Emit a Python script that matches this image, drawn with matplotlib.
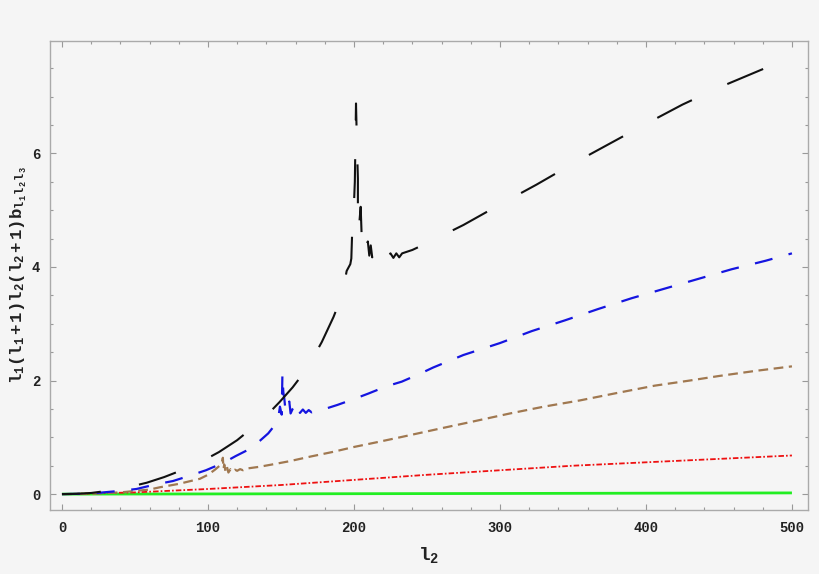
import matplotlib
matplotlib.use("Agg")
import matplotlib.pyplot as plt
from matplotlib.ticker import MultipleLocator

# ---- data ----
black_x = [0, 10, 20, 32, 45, 58, 70, 84, 96, 107.5, 120, 130, 140, 149, 158, 166, 172, 178, 182, 186,
           188, 191, 193, 195, 197.5, 198.2, 199.0, 199.6, 200.6, 201.4, 202.0, 202.7, 202.7, 203.2,
           204.6, 205.3, 206.0, 207.0, 208.0, 209.5, 210.5, 211.5, 212.5, 213.5, 215, 217, 219, 221,
           223, 225, 227, 229, 231, 233, 240, 250, 275, 300, 325, 350, 375, 400, 425, 450, 475, 500]
black_y = [0, 0.005, 0.02, 0.06, 0.12, 0.2, 0.3, 0.44, 0.58, 0.74, 0.95, 1.16, 1.38, 1.62, 1.88, 2.15, 2.4, 2.68, 2.9, 3.12,
           3.25, 3.47, 3.65, 3.93, 4.05, 4.15, 4.8, 4.85, 5.5, 6.88, 6.2, 5.55, 4.79, 4.63,
           5.06, 4.53, 4.68, 4.45, 4.33, 4.45, 4.2, 4.38, 4.17, 4.32, 4.15, 4.22, 4.18, 4.22,
           4.16, 4.24, 4.16, 4.24, 4.17, 4.24, 4.3, 4.42, 4.74, 5.1, 5.45, 5.82, 6.17, 6.52, 6.86, 7.16, 7.43, 7.7]

blue_x = [0, 12, 24, 41, 51, 64, 76, 87, 98.6, 110.5, 119, 129, 135.6, 141.3, 144.7, 147, 148.5, 149.3,
          150.5, 151.0, 151.6, 152.3, 153.0, 154.3, 155.7, 156.6, 158, 159.6, 160.7, 162, 163, 165, 167,
          169, 171, 173.3, 177, 181.3, 188.6, 199.5, 209.8, 222.4, 232.7, 245.2, 254.3, 275, 300, 321.7,
          344.5, 367.3, 390.2, 413, 435.8, 458.7, 482, 500]
blue_y = [0, 0.005, 0.02, 0.06, 0.09, 0.17, 0.23, 0.32, 0.42, 0.55, 0.67, 0.8, 0.94, 1.07, 1.18, 1.28, 1.4, 1.54,
          1.4, 2.12, 1.8, 1.68, 1.5, 1.45, 1.63, 1.42, 1.5, 1.56, 1.45, 1.5, 1.43, 1.49, 1.43,
          1.48, 1.44, 1.47, 1.49, 1.51, 1.57, 1.67, 1.77, 1.9, 1.98, 2.12, 2.23, 2.45, 2.66, 2.87,
          3.06, 3.26, 3.45, 3.62, 3.79, 3.96, 4.11, 4.24]

brown_x = [0, 20, 40, 60, 67, 80, 94.5, 100, 104.8, 108, 109.5, 110.2, 110.6, 111.2, 112, 113, 114, 115.5,
           117, 118.5, 120, 122, 124, 126.5, 135, 143.6, 156, 170, 185, 200, 215, 231.5, 260, 280, 306.8,
           330, 354.8, 380, 406, 430, 450, 475, 500]
brown_y = [0, 0.005, 0.03, 0.08, 0.12, 0.18, 0.27, 0.34, 0.43, 0.5, 0.55, 0.64, 0.45, 0.52, 0.4, 0.48, 0.38, 0.44,
           0.4, 0.43, 0.41, 0.44, 0.42, 0.45, 0.48, 0.52, 0.58, 0.66, 0.74, 0.83, 0.91, 1.0, 1.16, 1.27, 1.42,
           1.54, 1.65, 1.78, 1.91, 2.0, 2.08, 2.17, 2.25]

red_x = [0, 50, 100, 150, 200, 250, 300, 350, 400, 450, 500]
red_y = [0, 0.03, 0.09, 0.16, 0.25, 0.34, 0.42, 0.5, 0.56, 0.62, 0.68]

green_x = [0, 100, 200, 300, 400, 500]
green_y = [0, 0.003, 0.007, 0.011, 0.016, 0.021]

x_ticks = [0, 100, 200, 300, 400, 500]
y_ticks = [0, 2, 4, 6]

# ---- style ----
plt.rcParams['lines.scale_dashes'] = False
plt.rcParams['mathtext.fontset'] = 'custom'
plt.rcParams['mathtext.rm'] = 'Liberation Mono:bold'
plt.rcParams['mathtext.it'] = 'Liberation Mono:bold'
plt.rcParams['mathtext.bf'] = 'Liberation Mono:bold'

bg = '#f5f5f5'
fig = plt.figure(figsize=(8.2, 5.74), dpi=100, facecolor=bg)
ax = fig.add_axes([50/820, (574-510)/574, (808-50)/820, (510-41)/574], facecolor=bg)

ax.plot(green_x, green_y, color='#22ee22', lw=2.0, solid_capstyle='butt')
ax.plot(red_x, red_y, color='#ee1111', lw=1.3, dashes=(4.0, 1.5, 1.2, 1.5))
ax.plot(brown_x, brown_y, color='#a07850', lw=1.6, dashes=(7.0, 4.0))
ax.plot(blue_x, blue_y, color='#1515e0', lw=1.6, dashes=(13.0, 12.0))
ax.plot(black_x, black_y, color='#111111', lw=1.5, dashes=(28.0, 28.0))

ax.set_xlim(-8.2, 511)
ax.set_ylim(-0.28, 7.98)

ax.set_xticks(x_ticks)
ax.set_yticks(y_ticks)
ax.xaxis.set_minor_locator(MultipleLocator(20))
ax.yaxis.set_minor_locator(MultipleLocator(0.5))
ax.tick_params(which='both', direction='in', top=True, right=True, color='#999999', width=0.8)
ax.tick_params(which='major', length=4.5)
ax.tick_params(which='minor', length=2.5)
for s in ax.spines.values():
    s.set_color('#aaaaaa')
    s.set_linewidth(1.0)

for lab in ax.get_xticklabels() + ax.get_yticklabels():
    lab.set_family('Liberation Mono')
    lab.set_fontweight('bold')
    lab.set_fontsize(10)
    lab.set_color('#222222')
ax.tick_params(axis='x', pad=8)
ax.tick_params(axis='y', pad=7)

ax.set_xlabel(r'$\mathrm{l_2}$', fontsize=14, color='#222222', labelpad=7)
ax.set_ylabel(r'$\mathrm{l_1(l_1+1)l_2(l_2+1)b_{l_1\,l_2\,l_3}}$', fontsize=12.5, color='#222222', labelpad=2)

fig.savefig('out.png', dpi=100, facecolor=bg)
